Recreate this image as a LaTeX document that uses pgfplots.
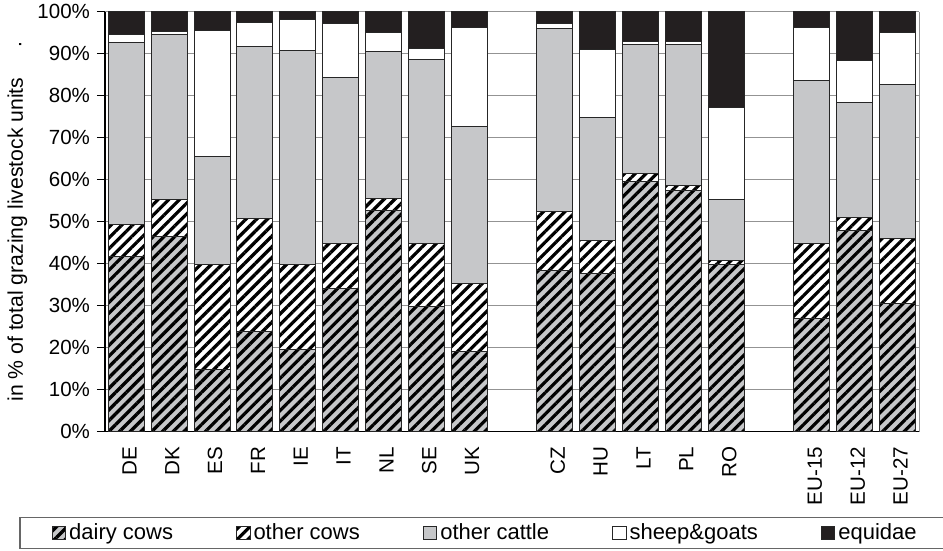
\documentclass[border=0pt]{standalone}
\usepackage{fontspec}
\setmainfont{Liberation Sans}
\usepackage{pgfplots}
\usepackage{pgfplotstable}
\pgfplotsset{compat=1.18}
\usetikzlibrary{patterns.meta}
\definecolor{barg}{HTML}{C6C7C9}
\definecolor{equ}{HTML}{231F20}

\pgfplotstableread{
x dairy ocows ocattle sheep equ
0 41.8 7.6 43.2 1.9 5.5
1 46.4 8.9 39.2 0.7 4.8
2 14.7 25.0 25.8 30.1 4.4
3 23.8 27.0 41.0 5.6 2.6
4 19.5 20.2 51.0 7.5 1.8
5 34.0 10.7 39.6 12.8 2.9
6 52.6 3.0 35.0 4.5 4.9
7 29.8 14.9 43.8 2.8 8.7
8 19.0 16.2 37.4 23.6 3.8
10 38.3 14.2 43.4 1.3 2.8
11 37.7 7.9 29.2 16.2 9.0
12 59.5 1.9 30.8 0.8 7.0
13 57.5 1.2 33.5 0.6 7.2
14 39.9 0.8 14.7 21.7 22.9
16 27.0 17.9 38.7 12.7 3.7
17 47.8 3.2 27.4 9.9 11.7
18 30.6 15.3 36.8 12.3 5.0
}\datatable

\tikzset{hatch/.style={postaction={pattern={Lines[angle=45,distance=3.8pt,line width=1.6pt]},pattern color=black}}}

\begin{document}
\begin{tikzpicture}
\begin{axis}[
  name=ax,
  width=407pt, height=210pt, scale only axis,
  ybar stacked, bar width=0.84,
  xmin=-0.5, xmax=18.5, ymin=0, ymax=100,
  axis x line*=bottom, axis y line*=left,
  axis line style={black, line width=0.6pt},
  tick align=outside,
  major tick length=4pt, minor tick length=3pt,
  xtick={0,1,2,3,4,5,6,7,8,10,11,12,13,14,16,17,18},
  xticklabels={DE,DK,ES,FR,IE,IT,NL,SE,UK,CZ,HU,LT,PL,RO,EU-15,EU-12,EU-27},
  xtick style={draw=none},
  minor xtick={-0.5,0.5,...,18.5},
  minor x tick style={black, line width=0.6pt},
  ytick={0,10,...,100},
  ytick style={black, line width=0.6pt},
  yticklabel={\pgfmathprintnumber{\tick}\%},
  /pgf/number format/assume math mode=true,
  ymajorgrids,
  major grid style={gray!85, line width=0.5pt},
  x tick label style={rotate=90, anchor=east, yshift=-1.5pt, font=\fontsize{10.3}{12}\selectfont},
  y tick label style={font=\fontsize{10.25}{12}\selectfont},
  ylabel={in \% of total grazing livestock units\hspace{15pt}\raisebox{0.8pt}{.}},
  every axis y label/.style={at={([xshift=-41pt]axis description cs:0,0.5)}, rotate=90, anchor=base, font=\fontsize{10.6}{12}\selectfont},
  legend columns=5,
  legend style={at={(0,0)}, anchor=north west, xshift=-43pt, yshift=-42.5pt,
    draw=black!60, line width=0.8pt, inner xsep=16pt, inner ysep=1.5pt,
    font=\fontsize{11}{13}\selectfont,
    nodes={inner xsep=1pt, inner ysep=1.5pt},
    /tikz/every odd column/.append style={column sep=0.5pt},
    /tikz/every even column/.append style={column sep=30.5pt}},
  legend image code/.code={\draw[#1, line width=0.5pt] (0pt,-3.3pt) rectangle (6.7pt,3.4pt);},
]
\addplot[fill=barg, draw=black!85, line width=0.5pt, hatch] table[x=x, y=dairy] {\datatable};
\addlegendentry{dairy cows}
\addplot[fill=white, draw=black!85, line width=0.5pt, hatch] table[x=x, y=ocows] {\datatable};
\addlegendentry{other cows}
\addplot[fill=barg, draw=black!85, line width=0.5pt] table[x=x, y=ocattle] {\datatable};
\addlegendentry{other cattle}
\addplot[fill=white, draw=black!85, line width=0.5pt] table[x=x, y=sheep] {\datatable};
\addlegendentry{sheep\&goats}
\addplot[fill=equ, draw=black!85, line width=0.5pt] table[x=x, y=equ] {\datatable};
\addlegendentry{equidae}
\end{axis}
\draw[gray!85, line width=0.5pt] (ax.south east) -- (ax.north east);
\pgfresetboundingbox
\path ([xshift=-52.5pt,yshift=-59.65pt]ax.south west) rectangle ([xshift=12pt,yshift=5.85pt]ax.north east);
\end{tikzpicture}
\end{document}
